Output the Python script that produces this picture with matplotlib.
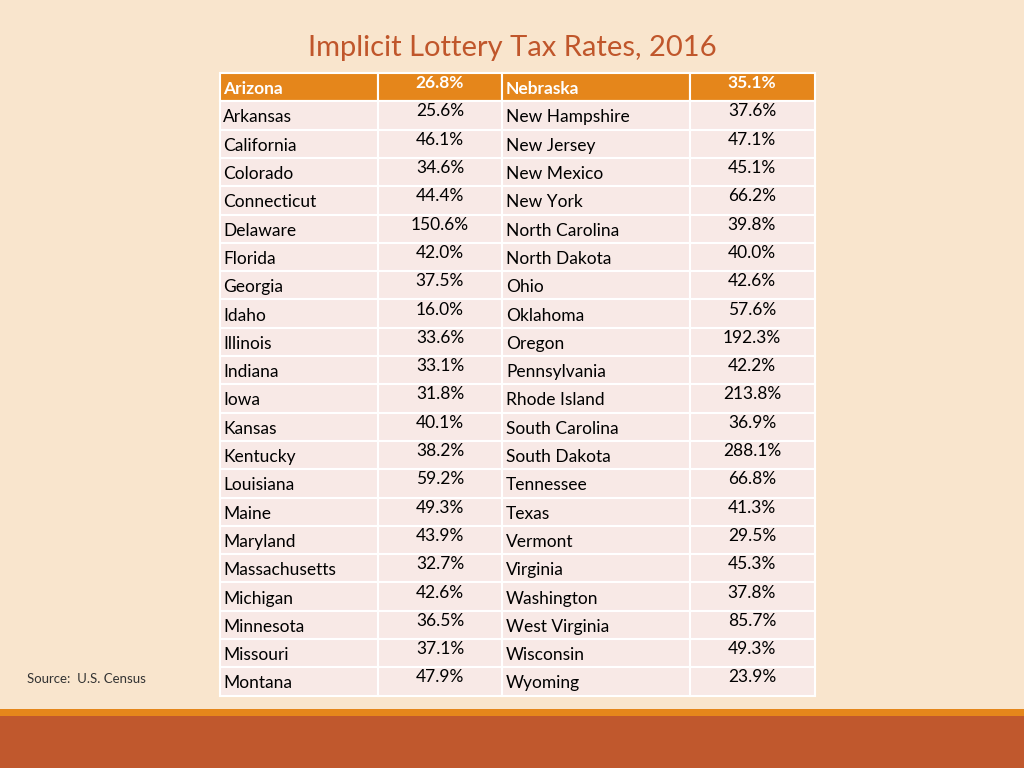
import matplotlib
matplotlib.use("Agg")
import matplotlib.pyplot as plt
from matplotlib.patches import Rectangle

title = "Implicit Lottery Tax Rates, 2016"
states_left = ["Arizona","Arkansas","California","Colorado","Connecticut","Delaware","Florida","Georgia","Idaho","Illinois","Indiana","Iowa","Kansas","Kentucky","Louisiana","Maine","Maryland","Massachusetts","Michigan","Minnesota","Missouri","Montana"]
rates_left = [26.8,25.6,46.1,34.6,44.4,150.6,42.0,37.5,16.0,33.6,33.1,31.8,40.1,38.2,59.2,49.3,43.9,32.7,42.6,36.5,37.1,47.9]
states_right = ["Nebraska","New Hampshire","New Jersey","New Mexico","New York","North Carolina","North Dakota","Ohio","Oklahoma","Oregon","Pennsylvania","Rhode Island","South Carolina","South Dakota","Tennessee","Texas","Vermont","Virginia","Washington","West Virginia","Wisconsin","Wyoming"]
rates_right = [35.1,37.6,47.1,45.1,66.2,39.8,40.0,42.6,57.6,192.3,42.2,213.8,36.9,288.1,66.8,41.3,29.5,45.3,37.8,85.7,49.3,23.9]
source = "Source:  U.S. Census"

FONT = "Lato"
fig = plt.figure(figsize=(10.24, 7.68), dpi=100)
fig.patch.set_facecolor("#F9E5CD")
ax = fig.add_axes([0, 0, 1, 1])
ax.set_xlim(0, 1024); ax.set_ylim(768, 0); ax.axis("off")

ax.text(512, 48, title, ha="center", va="center", fontsize=21, color="#C0562B", family=FONT)

cols = [(220, 378), (378, 502), (502, 690), (690, 815)]
top, rh = 73, 28.3
for i in range(len(states_left)):
    y = top + i * rh
    hdr = i == 0
    fc = "#E5861B" if hdr else "#F8E9E6"
    for (x0, x1) in cols:
        ax.add_patch(Rectangle((x0, y), x1 - x0, rh, facecolor=fc, edgecolor="white", lw=1.5))
    tc = "white" if hdr else "black"
    fw = "bold" if hdr else "normal"
    yc = y + rh / 2 + 2
    ax.text(223, yc, states_left[i], ha="left", va="center", fontsize=12.5, color=tc, weight=fw, family=FONT)
    ax.text(440, yc - 6, f"{rates_left[i]:.1f}%", ha="center", va="center", fontsize=12.5, color=tc, weight=fw, family=FONT)
    ax.text(506, yc, states_right[i], ha="left", va="center", fontsize=12.5, color=tc, weight=fw, family=FONT)
    ax.text(752, yc - 6, f"{rates_right[i]:.1f}%", ha="center", va="center", fontsize=12.5, color=tc, weight=fw, family=FONT)

ax.text(27, 679, source, ha="left", va="center", fontsize=9.5, color="#333333", family=FONT)
ax.add_patch(Rectangle((0, 709), 1024, 7, facecolor="#E5861B", edgecolor="none"))
ax.add_patch(Rectangle((0, 716), 1024, 52, facecolor="#C0582D", edgecolor="none"))

fig.savefig("out.png", dpi=100, facecolor=fig.get_facecolor())
